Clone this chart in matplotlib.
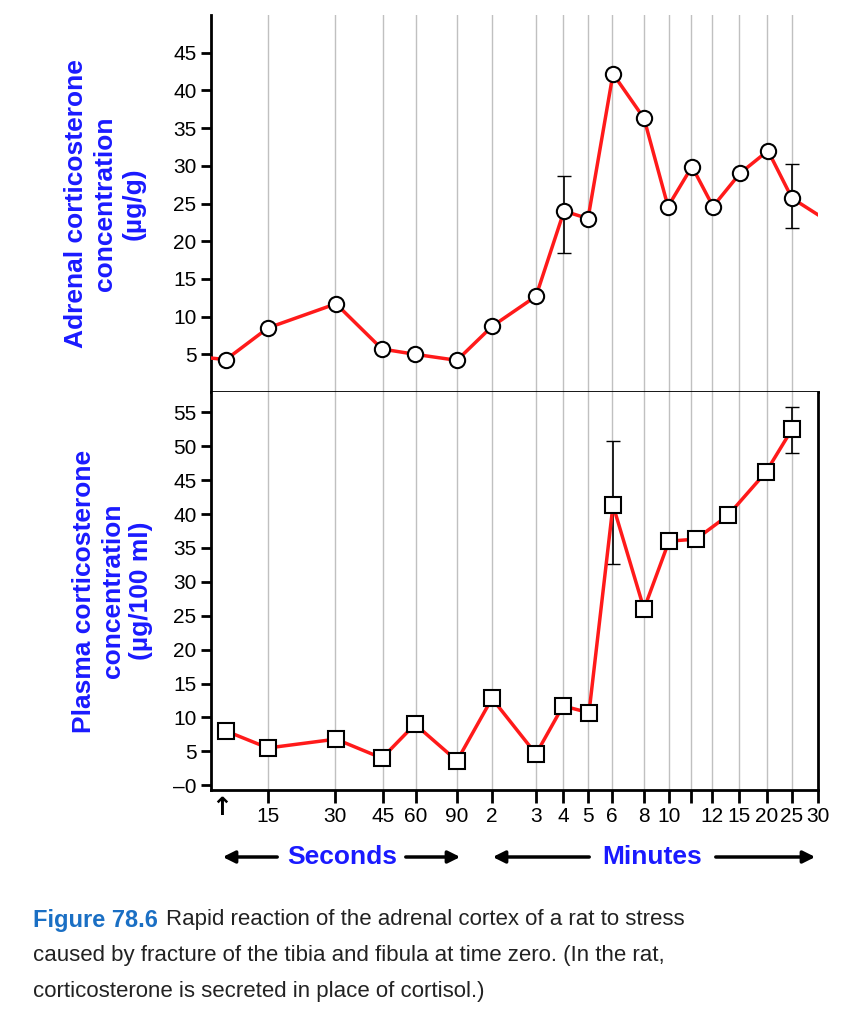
import matplotlib
matplotlib.use("Agg")
import matplotlib.pyplot as plt
plt.rcParams['font.family'] = ['Liberation Sans', 'DejaVu Sans']

# tick positions (axis units) and labels
tick_pos = [268, 335, 383, 416, 457, 492, 536, 563, 588, 612, 644, 669, 691, 712, 739, 767, 792, 818]
tick_lab = ["15", "30", "45", "60", "90", "2", "3", "4", "5", "6", "8", "10", "", "12", "15", "20", "25", "30"]

# adrenal
ad_x = [211, 226, 268, 336, 382, 415, 457, 492, 536, 564, 588, 613, 644, 668, 692, 713, 740, 768, 792, 818]
ad_y = [4.5, 4.3, 8.5, 11.7, 5.7, 5.0, 4.2, 8.7, 12.7, 24.0, 23.0, 42.2, 36.3, 24.6, 29.9, 24.6, 29.0, 32.0, 25.7, 23.5]
ad_marker = [False] + [True] * 18 + [False]
ad_err_x = [564, 792]
ad_err_lo = [18.5, 21.7]
ad_err_hi = [28.7, 30.2]

# plasma
pl_x = [226, 268, 336, 382, 415, 457, 492, 536, 563, 589, 613, 644, 669, 696, 728, 766, 792]
pl_y = [8.0, 5.5, 6.8, 4.0, 9.0, 3.6, 12.8, 4.6, 11.7, 10.7, 41.3, 26.0, 36.0, 36.3, 39.8, 46.2, 52.5]
pl_err_x = [613, 792]
pl_err_lo = [32.7, 49.0]
pl_err_hi = [50.7, 55.8]

fig = plt.figure(figsize=(8.52, 10.24), dpi=100)
L, R = 211/852, 818/852
ax1 = fig.add_axes([L, 1-392/1024, R-L, (392-15)/1024])
ax2 = fig.add_axes([L, 1-790/1024, R-L, (790-392)/1024])

blue = "#1a1aff"
for ax in (ax1, ax2):
    for p in tick_pos[:-1]:
        ax.axvline(p, color="#c0c0c0", lw=1, zorder=0)
    ax.set_xlim(211, 818)
    ax.spines["top"].set_visible(False)
    ax.spines["right"].set_visible(False)
    for s in ax.spines.values():
        s.set_linewidth(2)
    ax.tick_params(axis="y", width=2, length=7, labelsize=15)
    ax.tick_params(axis="x", width=2, length=9, labelsize=15)

ax2.spines["right"].set_visible(True)

# top panel
ax1.set_ylim(0, 50)
ax1.set_yticks([5, 10, 15, 20, 25, 30, 35, 40, 45])
ax1.set_xticks([])
ax1.tick_params(axis="x", length=0)
ax1.errorbar(ad_err_x, [(a+b)/2 for a, b in zip(ad_err_lo, ad_err_hi)],
             yerr=[(b-a)/2 for a, b in zip(ad_err_lo, ad_err_hi)], fmt="none",
             ecolor="black", elinewidth=1.2, capsize=5, zorder=2)
ax1.plot(ad_x, ad_y, color="#ff1a1a", lw=2.5, zorder=3, clip_on=True)
ax1.plot([x for x, m in zip(ad_x, ad_marker) if m], [y for y, m in zip(ad_y, ad_marker) if m],
         "o", ms=11, mfc="white", mec="black", mew=1.5, zorder=4, ls="none")
ax1.set_ylabel("Adrenal corticosterone\nconcentration\n(µg/g)", color=blue,
               fontsize=19, fontweight="bold", labelpad=20, linespacing=1.25)

# bottom panel
ax2.set_ylim(-0.7, 58)
ax2.set_yticks([0, 5, 10, 15, 20, 25, 30, 35, 40, 45, 50, 55])
ax2.set_yticklabels(["–0"] + [str(v) for v in range(5, 60, 5)])
ax2.set_xticks(tick_pos)
ax2.set_xticklabels(tick_lab)
ax2.errorbar(pl_err_x, [(a+b)/2 for a, b in zip(pl_err_lo, pl_err_hi)],
             yerr=[(b-a)/2 for a, b in zip(pl_err_lo, pl_err_hi)], fmt="none",
             ecolor="black", elinewidth=1.2, capsize=5, zorder=2)
ax2.plot(pl_x, pl_y, color="#ff1a1a", lw=2.5, zorder=3)
ax2.plot(pl_x, pl_y, "s", ms=11, mfc="white", mec="black", mew=1.5, zorder=4, ls="none")
ax2.set_ylabel("Plasma corticosterone\nconcentration\n(µg/100 ml)", color=blue,
               fontsize=19, fontweight="bold", labelpad=14, linespacing=1.25)

# arrow at time zero
fig.text(222/852, 1-808/1024, "↑", ha="center", va="center", fontsize=18, fontweight="bold",
         family=['DejaVu Sans'])

# seconds / minutes arrows
yy = 1 - 857/1024
fig.text(342/852, yy, "Seconds", color=blue, fontsize=19, fontweight="bold", ha="center", va="center")
fig.text(652/852, yy, "Minutes", color=blue, fontsize=19, fontweight="bold", ha="center", va="center")
ap = dict(arrowstyle="-|>", lw=2.5, color="black", mutation_scale=18)
fig.add_artist(matplotlib.patches.FancyArrowPatch((280/852, yy), (220/852, yy), transform=fig.transFigure, **ap))
fig.add_artist(matplotlib.patches.FancyArrowPatch((403/852, yy), (463/852, yy), transform=fig.transFigure, **ap))
fig.add_artist(matplotlib.patches.FancyArrowPatch((592/852, yy), (490/852, yy), transform=fig.transFigure, **ap))
fig.add_artist(matplotlib.patches.FancyArrowPatch((713/852, yy), (818/852, yy), transform=fig.transFigure, **ap))

# caption
fig.text(33/852, 1-920/1024, "Figure 78.6", color="#1a6fc4", fontsize=17, fontweight="bold", va="center")
fig.text(166/852, 1-920/1024, "Rapid reaction of the adrenal cortex of a rat to stress",
         fontsize=16, va="center", color="#222222")
fig.text(33/852, 1-956/1024, "caused by fracture of the tibia and fibula at time zero. (In the rat,",
         fontsize=16, va="center", color="#222222")
fig.text(33/852, 1-992/1024, "corticosterone is secreted in place of cortisol.)",
         fontsize=16, va="center", color="#222222")

fig.savefig("out.png", dpi=100)
